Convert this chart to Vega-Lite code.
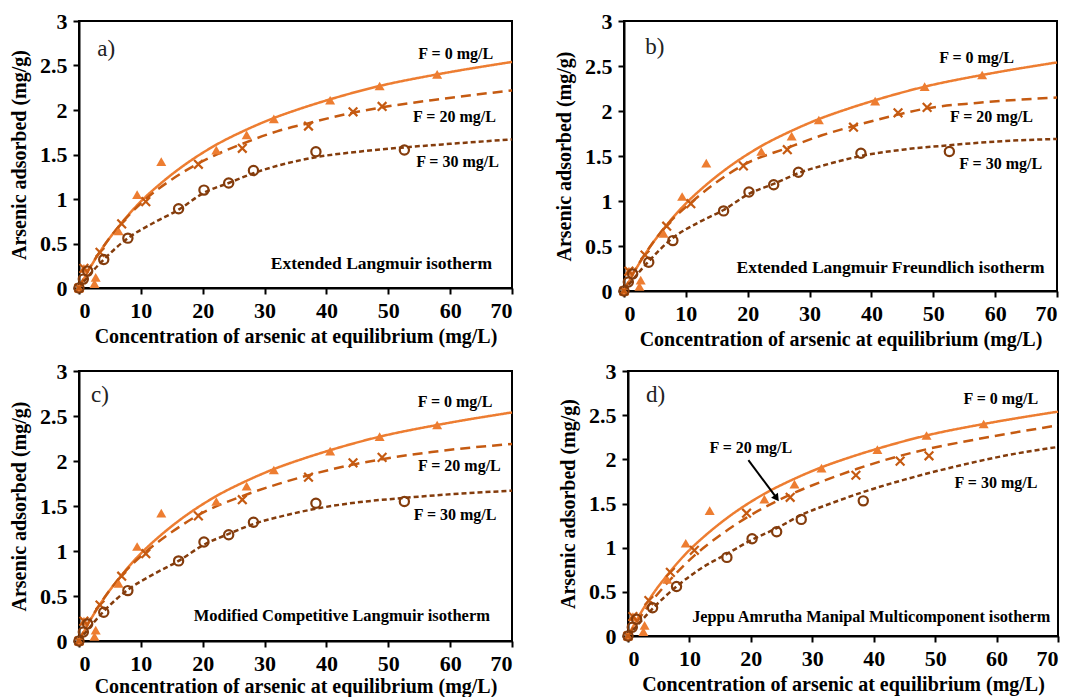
{
"$schema":"https://vega.github.io/schema/vega-lite/v6.json",
"padding":{"left":8,"top":9,"right":0,"bottom":0},
"datasets":{
"curves":[
{"p":"a","s":"F0","x":0,"y":0},{"p":"a","s":"F0","x":1,"y":0.13},{"p":"a","s":"F0","x":2.5,"y":0.31},{"p":"a","s":"F0","x":4,"y":0.47},{"p":"a","s":"F0","x":6.4,"y":0.69},{"p":"a","s":"F0","x":9.4,"y":0.93},{"p":"a","s":"F0","x":13.3,"y":1.18},{"p":"a","s":"F0","x":17,"y":1.38},{"p":"a","s":"F0","x":22.2,"y":1.61},{"p":"a","s":"F0","x":27.1,"y":1.78},{"p":"a","s":"F0","x":31.5,"y":1.91},{"p":"a","s":"F0","x":36,"y":2.02},{"p":"a","s":"F0","x":40.6,"y":2.12},{"p":"a","s":"F0","x":48.6,"y":2.27},{"p":"a","s":"F0","x":57.9,"y":2.4},{"p":"a","s":"F0","x":70,"y":2.54},
{"p":"b","s":"F0","x":0,"y":0},{"p":"b","s":"F0","x":1,"y":0.13},{"p":"b","s":"F0","x":2.5,"y":0.31},{"p":"b","s":"F0","x":4,"y":0.47},{"p":"b","s":"F0","x":6.4,"y":0.69},{"p":"b","s":"F0","x":9.4,"y":0.93},{"p":"b","s":"F0","x":13.3,"y":1.18},{"p":"b","s":"F0","x":17,"y":1.38},{"p":"b","s":"F0","x":22.2,"y":1.61},{"p":"b","s":"F0","x":27.1,"y":1.78},{"p":"b","s":"F0","x":31.5,"y":1.91},{"p":"b","s":"F0","x":36,"y":2.02},{"p":"b","s":"F0","x":40.6,"y":2.12},{"p":"b","s":"F0","x":48.6,"y":2.27},{"p":"b","s":"F0","x":57.9,"y":2.4},{"p":"b","s":"F0","x":70,"y":2.54},
{"p":"c","s":"F0","x":0,"y":0},{"p":"c","s":"F0","x":1,"y":0.13},{"p":"c","s":"F0","x":2.5,"y":0.31},{"p":"c","s":"F0","x":4,"y":0.47},{"p":"c","s":"F0","x":6.4,"y":0.69},{"p":"c","s":"F0","x":9.4,"y":0.93},{"p":"c","s":"F0","x":13.3,"y":1.18},{"p":"c","s":"F0","x":17,"y":1.38},{"p":"c","s":"F0","x":22.2,"y":1.61},{"p":"c","s":"F0","x":27.1,"y":1.78},{"p":"c","s":"F0","x":31.5,"y":1.91},{"p":"c","s":"F0","x":36,"y":2.02},{"p":"c","s":"F0","x":40.6,"y":2.12},{"p":"c","s":"F0","x":48.6,"y":2.27},{"p":"c","s":"F0","x":57.9,"y":2.4},{"p":"c","s":"F0","x":70,"y":2.54},
{"p":"d","s":"F0","x":0,"y":0},{"p":"d","s":"F0","x":1,"y":0.13},{"p":"d","s":"F0","x":2.5,"y":0.31},{"p":"d","s":"F0","x":4,"y":0.47},{"p":"d","s":"F0","x":6.4,"y":0.69},{"p":"d","s":"F0","x":9.4,"y":0.93},{"p":"d","s":"F0","x":13.3,"y":1.18},{"p":"d","s":"F0","x":17,"y":1.38},{"p":"d","s":"F0","x":22.2,"y":1.61},{"p":"d","s":"F0","x":27.1,"y":1.78},{"p":"d","s":"F0","x":31.5,"y":1.91},{"p":"d","s":"F0","x":36,"y":2.02},{"p":"d","s":"F0","x":40.6,"y":2.12},{"p":"d","s":"F0","x":48.6,"y":2.27},{"p":"d","s":"F0","x":57.9,"y":2.4},{"p":"d","s":"F0","x":70,"y":2.54},
{"p":"a","s":"F20","x":0,"y":0},{"p":"a","s":"F20","x":1,"y":0.14},{"p":"a","s":"F20","x":3.4,"y":0.41},{"p":"a","s":"F20","x":6.9,"y":0.73},{"p":"a","s":"F20","x":10.8,"y":1.0},{"p":"a","s":"F20","x":15,"y":1.22},{"p":"a","s":"F20","x":19.3,"y":1.4},{"p":"a","s":"F20","x":26.4,"y":1.62},{"p":"a","s":"F20","x":32,"y":1.76},{"p":"a","s":"F20","x":37,"y":1.85},{"p":"a","s":"F20","x":44.3,"y":1.97},{"p":"a","s":"F20","x":49,"y":2.03},{"p":"a","s":"F20","x":57,"y":2.11},{"p":"a","s":"F20","x":70,"y":2.22},
{"p":"b","s":"F20","x":0,"y":0},{"p":"b","s":"F20","x":1,"y":0.14},{"p":"b","s":"F20","x":3.4,"y":0.41},{"p":"b","s":"F20","x":6.9,"y":0.73},{"p":"b","s":"F20","x":10.8,"y":0.98},{"p":"b","s":"F20","x":15,"y":1.21},{"p":"b","s":"F20","x":19.3,"y":1.4},{"p":"b","s":"F20","x":26.4,"y":1.59},{"p":"b","s":"F20","x":32,"y":1.73},{"p":"b","s":"F20","x":37,"y":1.83},{"p":"b","s":"F20","x":44.3,"y":1.96},{"p":"b","s":"F20","x":49,"y":2.03},{"p":"b","s":"F20","x":57,"y":2.09},{"p":"b","s":"F20","x":70,"y":2.15},
{"p":"c","s":"F20","x":0,"y":0},{"p":"c","s":"F20","x":1,"y":0.14},{"p":"c","s":"F20","x":3.4,"y":0.41},{"p":"c","s":"F20","x":6.9,"y":0.73},{"p":"c","s":"F20","x":10.8,"y":0.99},{"p":"c","s":"F20","x":15,"y":1.21},{"p":"c","s":"F20","x":19.3,"y":1.4},{"p":"c","s":"F20","x":26.4,"y":1.61},{"p":"c","s":"F20","x":32,"y":1.74},{"p":"c","s":"F20","x":37,"y":1.84},{"p":"c","s":"F20","x":44.3,"y":1.96},{"p":"c","s":"F20","x":49,"y":2.02},{"p":"c","s":"F20","x":57,"y":2.1},{"p":"c","s":"F20","x":70,"y":2.19},
{"p":"d","s":"F20","x":0,"y":0},{"p":"d","s":"F20","x":1,"y":0.11},{"p":"d","s":"F20","x":3.4,"y":0.35},{"p":"d","s":"F20","x":6.9,"y":0.64},{"p":"d","s":"F20","x":10.8,"y":0.91},{"p":"d","s":"F20","x":15,"y":1.14},{"p":"d","s":"F20","x":19.3,"y":1.34},{"p":"d","s":"F20","x":26.4,"y":1.6},{"p":"d","s":"F20","x":32,"y":1.76},{"p":"d","s":"F20","x":37.2,"y":1.89},{"p":"d","s":"F20","x":44.3,"y":2.04},{"p":"d","s":"F20","x":49,"y":2.12},{"p":"d","s":"F20","x":57,"y":2.23},{"p":"d","s":"F20","x":70,"y":2.385},
{"p":"a","s":"F30","x":0,"y":0},{"p":"a","s":"F30","x":1,"y":0.09},{"p":"a","s":"F30","x":4,"y":0.32},{"p":"a","s":"F30","x":7.9,"y":0.56},{"p":"a","s":"F30","x":12,"y":0.73},{"p":"a","s":"F30","x":16.1,"y":0.88},{"p":"a","s":"F30","x":20.2,"y":1.07},{"p":"a","s":"F30","x":24.2,"y":1.18},{"p":"a","s":"F30","x":28.2,"y":1.29},{"p":"a","s":"F30","x":33,"y":1.39},{"p":"a","s":"F30","x":38.3,"y":1.47},{"p":"a","s":"F30","x":45,"y":1.53},{"p":"a","s":"F30","x":52.6,"y":1.58},{"p":"a","s":"F30","x":60,"y":1.62},{"p":"a","s":"F30","x":70,"y":1.67},
{"p":"b","s":"F30","x":0,"y":0},{"p":"b","s":"F30","x":1,"y":0.09},{"p":"b","s":"F30","x":4,"y":0.33},{"p":"b","s":"F30","x":7.9,"y":0.59},{"p":"b","s":"F30","x":12,"y":0.76},{"p":"b","s":"F30","x":16.1,"y":0.9},{"p":"b","s":"F30","x":20.2,"y":1.08},{"p":"b","s":"F30","x":24.2,"y":1.19},{"p":"b","s":"F30","x":28.2,"y":1.31},{"p":"b","s":"F30","x":33,"y":1.41},{"p":"b","s":"F30","x":38.3,"y":1.5},{"p":"b","s":"F30","x":45,"y":1.57},{"p":"b","s":"F30","x":52.6,"y":1.62},{"p":"b","s":"F30","x":60,"y":1.66},{"p":"b","s":"F30","x":70,"y":1.69},
{"p":"c","s":"F30","x":0,"y":0},{"p":"c","s":"F30","x":1,"y":0.09},{"p":"c","s":"F30","x":4,"y":0.33},{"p":"c","s":"F30","x":7.9,"y":0.57},{"p":"c","s":"F30","x":12,"y":0.74},{"p":"c","s":"F30","x":16.1,"y":0.89},{"p":"c","s":"F30","x":20.2,"y":1.07},{"p":"c","s":"F30","x":24.2,"y":1.19},{"p":"c","s":"F30","x":28.2,"y":1.3},{"p":"c","s":"F30","x":33,"y":1.39},{"p":"c","s":"F30","x":38.3,"y":1.47},{"p":"c","s":"F30","x":45,"y":1.54},{"p":"c","s":"F30","x":52.6,"y":1.59},{"p":"c","s":"F30","x":60,"y":1.63},{"p":"c","s":"F30","x":70,"y":1.67},
{"p":"d","s":"F30","x":0,"y":0},{"p":"d","s":"F30","x":1,"y":0.08},{"p":"d","s":"F30","x":4,"y":0.31},{"p":"d","s":"F30","x":7.9,"y":0.56},{"p":"d","s":"F30","x":12,"y":0.77},{"p":"d","s":"F30","x":16.1,"y":0.93},{"p":"d","s":"F30","x":20.2,"y":1.09},{"p":"d","s":"F30","x":24.2,"y":1.22},{"p":"d","s":"F30","x":28.2,"y":1.37},{"p":"d","s":"F30","x":33,"y":1.5},{"p":"d","s":"F30","x":38.3,"y":1.63},{"p":"d","s":"F30","x":45,"y":1.77},{"p":"d","s":"F30","x":54,"y":1.93},{"p":"d","s":"F30","x":62,"y":2.05},{"p":"d","s":"F30","x":70,"y":2.14}
],
"obs":[
{"s":"F0","x":0,"y":0},{"s":"F0","x":0.8,"y":0.22},{"s":"F0","x":2.5,"y":0.05},{"s":"F0","x":2.7,"y":0.12},{"s":"F0","x":6.4,"y":0.64},{"s":"F0","x":9.4,"y":1.05},{"s":"F0","x":13.3,"y":1.42},{"s":"F0","x":22.2,"y":1.55},{"s":"F0","x":27.1,"y":1.72},{"s":"F0","x":31.5,"y":1.9},{"s":"F0","x":40.6,"y":2.11},{"s":"F0","x":48.6,"y":2.27},{"s":"F0","x":57.9,"y":2.4},
{"s":"F20","x":0,"y":0},{"s":"F20","x":0.8,"y":0.22},{"s":"F20","x":3.4,"y":0.4},{"s":"F20","x":6.9,"y":0.72},{"s":"F20","x":10.8,"y":0.97},{"s":"F20","x":19.3,"y":1.39},{"s":"F20","x":26.4,"y":1.57},{"s":"F20","x":37.1,"y":1.82},{"s":"F20","x":44.3,"y":1.98},{"s":"F20","x":49,"y":2.04},
{"s":"F30","x":0,"y":0},{"s":"F30","x":0.7,"y":0.1},{"s":"F30","x":1.4,"y":0.19},{"s":"F30","x":4,"y":0.32},{"s":"F30","x":7.9,"y":0.56},{"s":"F30","x":16.1,"y":0.89},{"s":"F30","x":20.2,"y":1.1},{"s":"F30","x":24.2,"y":1.18},{"s":"F30","x":28.2,"y":1.32},{"s":"F30","x":38.3,"y":1.53},{"s":"F30","x":52.6,"y":1.55,"nd":1}
],
"labels":[
{"p":"a","k":"tag","t":"a)","x":4.4,"y":2.69},
{"p":"a","k":"b","t":"F = 0 mg/L","x":60.9,"y":2.63},
{"p":"a","k":"b","t":"F = 20 mg/L","x":60.7,"y":1.92},
{"p":"a","k":"b","t":"F = 30 mg/L","x":61.2,"y":1.42},
{"p":"a","k":"m","t":"Extended Langmuir isotherm","x":48.9,"y":0.27},
{"p":"b","k":"tag","t":"b)","x":5.0,"y":2.71},
{"p":"b","k":"b","t":"F = 0 mg/L","x":57.0,"y":2.585},
{"p":"b","k":"b","t":"F = 20 mg/L","x":59.4,"y":1.93},
{"p":"b","k":"b","t":"F = 30 mg/L","x":60.9,"y":1.415},
{"p":"b","k":"m","t":"Extended Langmuir Freundlich isotherm","x":43.1,"y":0.26},
{"p":"c","k":"tag","t":"c)","x":3.4,"y":2.73},
{"p":"c","k":"b","t":"F = 0 mg/L","x":60.8,"y":2.66},
{"p":"c","k":"b","t":"F = 20 mg/L","x":61.5,"y":1.94},
{"p":"c","k":"b","t":"F = 30 mg/L","x":60.8,"y":1.4},
{"p":"c","k":"m","t":"Modified Competitive Langmuir isotherm","x":42.5,"y":0.28},
{"p":"d","k":"tag","t":"d)","x":4.5,"y":2.73},
{"p":"d","k":"b","t":"F = 0 mg/L","x":60.7,"y":2.68},
{"p":"d","k":"b","t":"F = 20 mg/L","x":20.0,"y":2.13},
{"p":"d","k":"b","t":"F = 30 mg/L","x":59.9,"y":1.73},
{"p":"d","k":"m","t":"Jeppu Amrutha Manipal Multicomponent isotherm","x":39.6,"y":0.21},
{"p":"d","k":"arrow","x":19.6,"y":1.99,"x2":24.0,"y2":1.58},
{"p":"d","k":"head","x":24.2,"y":1.56}
]
},
"vconcat":[
{"hconcat":[
{"width":433,"height":267,
"encoding":{"x":{"field":"x","type":"quantitative","scale":{"domain":[0,70],"nice":false},"axis":{"values":[0,10,20,30,40,50,60,70],"title":"Concentration of arsenic at equilibrium (mg/L)","labelFont":"Liberation Serif","titleFont":"Liberation Serif"}},"y":{"field":"y","type":"quantitative","scale":{"domain":[0,3],"nice":false},"axis":{"values":[0,0.5,1,1.5,2,2.5,3],"format":"~g","title":"Arsenic adsorbed (mg/g)","labelFont":"Liberation Serif","titleFont":"Liberation Serif"}}},
"layer":[
{"data":{"name":"curves"},"transform":[{"filter":"datum.p=='a'"}],"mark":{"type":"line","interpolate":"monotone","strokeWidth":2.5},"encoding":{"color":{"field":"s","type":"nominal","scale":{"domain":["F0","F20","F30"],"range":["#ED7D31","#C55A11","#843C0C"]},"legend":null},"strokeDash":{"field":"s","type":"nominal","scale":{"domain":["F0","F20","F30"],"range":[[1,0],[10,6],[5,3]]},"legend":null}}},
{"data":{"name":"obs"},"transform":[{"filter":"datum.s=='F0'"}],"mark":{"type":"point","shape":"triangle-up","filled":true,"color":"#ED7D31","size":100,"opacity":1}},
{"data":{"name":"obs"},"transform":[{"filter":"datum.s=='F20'"}],"mark":{"type":"point","shape":"M-1,-1L1,1M-1,1L1,-1","filled":false,"color":"#C55A11","strokeWidth":2.2,"size":75,"opacity":1}},
{"data":{"name":"obs"},"transform":[{"filter":"datum.s=='F30'"}],"mark":{"type":"point","shape":"circle","filled":false,"color":"#843C0C","strokeWidth":2.2,"size":85,"opacity":1}},
{"data":{"name":"labels"},"transform":[{"filter":"datum.p=='a' && datum.k=='b'"}],"mark":{"type":"text","font":"Liberation Serif","fontWeight":"bold","fontSize":16,"color":"black"},"encoding":{"text":{"field":"t"}}},
{"data":{"name":"labels"},"transform":[{"filter":"datum.p=='a' && datum.k=='m'"}],"mark":{"type":"text","font":"Liberation Serif","fontWeight":"bold","fontSize":17.5,"color":"black"},"encoding":{"text":{"field":"t"}}},
{"data":{"name":"labels"},"transform":[{"filter":"datum.p=='a' && datum.k=='tag'"}],"mark":{"type":"text","font":"Liberation Serif","fontSize":23,"color":"#222222"},"encoding":{"text":{"field":"t"}}}
]},
{"width":433,"height":270,
"encoding":{"x":{"field":"x","type":"quantitative","scale":{"domain":[0,70],"nice":false},"axis":{"values":[0,10,20,30,40,50,60,70],"title":"Concentration of arsenic at equilibrium (mg/L)","labelFont":"Liberation Serif","titleFont":"Liberation Serif"}},"y":{"field":"y","type":"quantitative","scale":{"domain":[0,3],"nice":false},"axis":{"values":[0,0.5,1,1.5,2,2.5,3],"format":"~g","title":"Arsenic adsorbed (mg/g)","labelFont":"Liberation Serif","titleFont":"Liberation Serif"}}},
"layer":[
{"data":{"name":"curves"},"transform":[{"filter":"datum.p=='b'"}],"mark":{"type":"line","interpolate":"monotone","strokeWidth":2.5},"encoding":{"color":{"field":"s","type":"nominal","scale":{"domain":["F0","F20","F30"],"range":["#ED7D31","#C55A11","#843C0C"]},"legend":null},"strokeDash":{"field":"s","type":"nominal","scale":{"domain":["F0","F20","F30"],"range":[[1,0],[10,6],[5,3]]},"legend":null}}},
{"data":{"name":"obs"},"transform":[{"filter":"datum.s=='F0'"}],"mark":{"type":"point","shape":"triangle-up","filled":true,"color":"#ED7D31","size":100,"opacity":1}},
{"data":{"name":"obs"},"transform":[{"filter":"datum.s=='F20'"}],"mark":{"type":"point","shape":"M-1,-1L1,1M-1,1L1,-1","filled":false,"color":"#C55A11","strokeWidth":2.2,"size":75,"opacity":1}},
{"data":{"name":"obs"},"transform":[{"filter":"datum.s=='F30'"}],"mark":{"type":"point","shape":"circle","filled":false,"color":"#843C0C","strokeWidth":2.2,"size":85,"opacity":1}},
{"data":{"name":"labels"},"transform":[{"filter":"datum.p=='b' && datum.k=='b'"}],"mark":{"type":"text","font":"Liberation Serif","fontWeight":"bold","fontSize":16,"color":"black"},"encoding":{"text":{"field":"t"}}},
{"data":{"name":"labels"},"transform":[{"filter":"datum.p=='b' && datum.k=='m'"}],"mark":{"type":"text","font":"Liberation Serif","fontWeight":"bold","fontSize":17.5,"color":"black"},"encoding":{"text":{"field":"t"}}},
{"data":{"name":"labels"},"transform":[{"filter":"datum.p=='b' && datum.k=='tag'"}],"mark":{"type":"text","font":"Liberation Serif","fontSize":23,"color":"#222222"},"encoding":{"text":{"field":"t"}}}
]}
],"spacing":35},
{"hconcat":[
{"width":433,"height":270,
"encoding":{"x":{"field":"x","type":"quantitative","scale":{"domain":[0,70],"nice":false},"axis":{"values":[0,10,20,30,40,50,60,70],"title":"Concentration of arsenic at equilibrium (mg/L)","titlePadding":2,"labelFont":"Liberation Serif","titleFont":"Liberation Serif"}},"y":{"field":"y","type":"quantitative","scale":{"domain":[0,3],"nice":false},"axis":{"values":[0,0.5,1,1.5,2,2.5,3],"format":"~g","title":"Arsenic adsorbed (mg/g)","labelFont":"Liberation Serif","titleFont":"Liberation Serif"}}},
"layer":[
{"data":{"name":"curves"},"transform":[{"filter":"datum.p=='c'"}],"mark":{"type":"line","interpolate":"monotone","strokeWidth":2.5},"encoding":{"color":{"field":"s","type":"nominal","scale":{"domain":["F0","F20","F30"],"range":["#ED7D31","#C55A11","#843C0C"]},"legend":null},"strokeDash":{"field":"s","type":"nominal","scale":{"domain":["F0","F20","F30"],"range":[[1,0],[10,6],[5,3]]},"legend":null}}},
{"data":{"name":"obs"},"transform":[{"filter":"datum.s=='F0'"}],"mark":{"type":"point","shape":"triangle-up","filled":true,"color":"#ED7D31","size":100,"opacity":1}},
{"data":{"name":"obs"},"transform":[{"filter":"datum.s=='F20'"}],"mark":{"type":"point","shape":"M-1,-1L1,1M-1,1L1,-1","filled":false,"color":"#C55A11","strokeWidth":2.2,"size":75,"opacity":1}},
{"data":{"name":"obs"},"transform":[{"filter":"datum.s=='F30'"}],"mark":{"type":"point","shape":"circle","filled":false,"color":"#843C0C","strokeWidth":2.2,"size":85,"opacity":1}},
{"data":{"name":"labels"},"transform":[{"filter":"datum.p=='c' && datum.k=='b'"}],"mark":{"type":"text","font":"Liberation Serif","fontWeight":"bold","fontSize":16,"color":"black"},"encoding":{"text":{"field":"t"}}},
{"data":{"name":"labels"},"transform":[{"filter":"datum.p=='c' && datum.k=='m'"}],"mark":{"type":"text","font":"Liberation Serif","fontWeight":"bold","fontSize":16.5,"color":"black"},"encoding":{"text":{"field":"t"}}},
{"data":{"name":"labels"},"transform":[{"filter":"datum.p=='c' && datum.k=='tag'"}],"mark":{"type":"text","font":"Liberation Serif","fontSize":23,"color":"#222222"},"encoding":{"text":{"field":"t"}}}
]},
{"width":430,"height":265,
"encoding":{"x":{"field":"x","type":"quantitative","scale":{"domain":[0,70],"nice":false},"axis":{"values":[0,10,20,30,40,50,60,70],"title":"Concentration of arsenic at equilibrium (mg/L)","labelFont":"Liberation Serif","titleFont":"Liberation Serif"}},"y":{"field":"y","type":"quantitative","scale":{"domain":[0,3],"nice":false},"axis":{"values":[0,0.5,1,1.5,2,2.5,3],"format":"~g","title":"Arsenic adsorbed (mg/g)","labelFont":"Liberation Serif","titleFont":"Liberation Serif"}}},
"layer":[
{"data":{"name":"curves"},"transform":[{"filter":"datum.p=='d'"}],"mark":{"type":"line","interpolate":"monotone","strokeWidth":2.5},"encoding":{"color":{"field":"s","type":"nominal","scale":{"domain":["F0","F20","F30"],"range":["#ED7D31","#C55A11","#843C0C"]},"legend":null},"strokeDash":{"field":"s","type":"nominal","scale":{"domain":["F0","F20","F30"],"range":[[1,0],[10,6],[5,3]]},"legend":null}}},
{"data":{"name":"obs"},"transform":[{"filter":"datum.s=='F0'"}],"mark":{"type":"point","shape":"triangle-up","filled":true,"color":"#ED7D31","size":100,"opacity":1}},
{"data":{"name":"obs"},"transform":[{"filter":"datum.s=='F20'"}],"mark":{"type":"point","shape":"M-1,-1L1,1M-1,1L1,-1","filled":false,"color":"#C55A11","strokeWidth":2.2,"size":75,"opacity":1}},
{"data":{"name":"obs"},"transform":[{"filter":"datum.s=='F30' && !datum.nd"}],"mark":{"type":"point","shape":"circle","filled":false,"color":"#843C0C","strokeWidth":2.2,"size":85,"opacity":1}},
{"data":{"name":"labels"},"transform":[{"filter":"datum.p=='d' && datum.k=='b'"}],"mark":{"type":"text","font":"Liberation Serif","fontWeight":"bold","fontSize":16,"color":"black"},"encoding":{"text":{"field":"t"}}},
{"data":{"name":"labels"},"transform":[{"filter":"datum.p=='d' && datum.k=='m'"}],"mark":{"type":"text","font":"Liberation Serif","fontWeight":"bold","fontSize":16.3,"color":"black"},"encoding":{"text":{"field":"t"}}},
{"data":{"name":"labels"},"transform":[{"filter":"datum.p=='d' && datum.k=='tag'"}],"mark":{"type":"text","font":"Liberation Serif","fontSize":23,"color":"#222222"},"encoding":{"text":{"field":"t"}}},
{"data":{"name":"labels"},"transform":[{"filter":"datum.k=='arrow'"}],"mark":{"type":"rule","color":"black","strokeWidth":2},"encoding":{"x2":{"field":"x2"},"y2":{"field":"y2"}}},
{"data":{"name":"labels"},"transform":[{"filter":"datum.k=='head'"}],"mark":{"type":"point","shape":"triangle-up","filled":true,"color":"black","size":70,"angle":144,"opacity":1}}
]}
],"spacing":39}
],
"spacing":9,
"config":{
"font":"Liberation Serif",
"view":{"stroke":"black","strokeWidth":2},
"style":{"guide-label":{"font":"Liberation Serif","fontWeight":"bold","fontSize":22,"fill":"black"},"guide-title":{"font":"Liberation Serif","fontWeight":"bold","fontSize":20,"fill":"black"}},
"axis":{"grid":false,"domainColor":"black","domainWidth":2,"tickColor":"black","tickWidth":2,"tickSize":6,"labelFont":"Liberation Serif","labelFontWeight":"bold","labelFontSize":22,"labelColor":"black","titleFont":"Liberation Serif","titleFontWeight":"bold","titleFontSize":20,"titleColor":"black"},
"axisX":{"labelPadding":6,"titlePadding":5},
"axisY":{"labelPadding":6,"titlePadding":10}
}
}
